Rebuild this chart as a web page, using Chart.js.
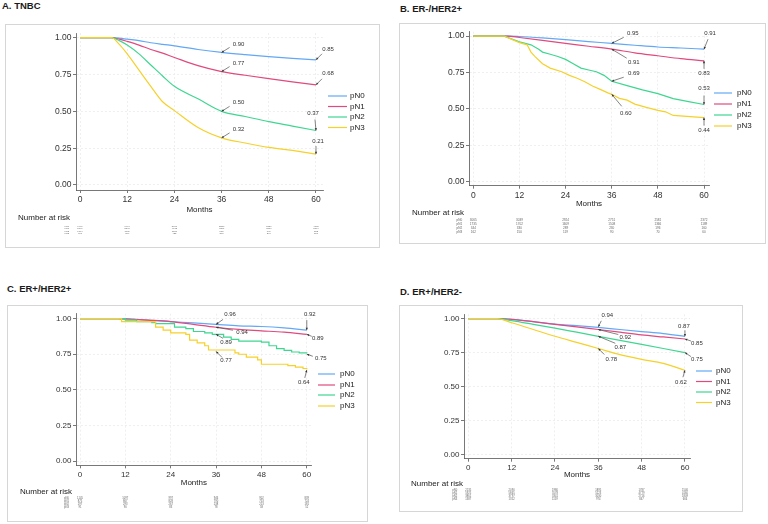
<!DOCTYPE html>
<html>
<head>
<meta charset="utf-8">
<script src="https://cdn.jsdelivr.net/npm/chart.js@4.4.1/dist/chart.umd.min.js"></script>
<style>
  html, body { margin: 0; padding: 0; background: #fff; }
  body { width: 768px; height: 524px; position: relative; overflow: hidden; font-family: "Liberation Sans", Arial, sans-serif; }
  .ttl { position: absolute; font-weight: bold; font-size: 9.5px; line-height: 1; color: #1a1a1a; white-space: nowrap; }
  .box { position: absolute; border: 1px solid #d6d6d6; box-sizing: border-box; }
  .box canvas { position: absolute; left: 0; top: 0; }
</style>
</head>
<body>
<script>
const FF = '"Liberation Sans", Arial, sans-serif';
const groups = ['pN0', 'pN1', 'pN2', 'pN3'];
const colors = ['#62a8f5', '#e04a7f', '#3fd690', '#f5d12a'];
const xTicks = [0, 12, 24, 36, 48, 60];
const yTicks = [0, 0.25, 0.5, 0.75, 1];

// A. TNBC
const aMonths = [0, 8, 10, 12, 15, 18, 21, 24, 30, 36, 42, 48, 54, 60];
const aN0 = [1, 1, 0.997, 0.99, 0.98, 0.966, 0.955, 0.945, 0.92, 0.90, 0.885, 0.872, 0.86, 0.85];
const aN1 = [1, 1, 0.99, 0.975, 0.95, 0.92, 0.895, 0.866, 0.81, 0.77, 0.745, 0.722, 0.70, 0.68];
const aN2 = [1, 1, 0.98, 0.95, 0.89, 0.815, 0.74, 0.67, 0.585, 0.50, 0.465, 0.43, 0.40, 0.37];
const aN3 = [1, 1, 0.955, 0.89, 0.78, 0.67, 0.565, 0.505, 0.39, 0.32, 0.285, 0.255, 0.235, 0.21];
const aRisk = [[6497, 6414, 5986, 5330, 5157, 4865], [5747, 5584, 4673, 4251, 3786, 3164], [1764, 1639, 1130, 830, 609, 532], [900, 759, 422, 270, 204, 156]];
const aNotes = [[0, 36, 0.90], [0, 60, 0.85], [1, 36, 0.77], [1, 60, 0.68], [2, 36, 0.50], [2, 60, 0.37], [3, 36, 0.32], [3, 60, 0.21]];

// B. ER-/HER2+
const bMonths = [0, 9, 12, 18, 24, 30, 36, 42, 48, 54, 60];
const bN0 = [1, 1, 0.997, 0.987, 0.975, 0.962, 0.95, 0.937, 0.925, 0.918, 0.91];
const bN1 = [1, 1, 0.99, 0.97, 0.95, 0.93, 0.91, 0.885, 0.865, 0.845, 0.83];
const bN2Months = [0, 8, 12, 15, 17, 18, 20, 22, 24, 26, 28, 30, 32, 34, 36, 40, 44, 48, 52, 56, 60];
const bN2 = [1, 1, 0.96, 0.94, 0.91, 0.89, 0.875, 0.86, 0.84, 0.81, 0.78, 0.767, 0.755, 0.73, 0.69, 0.66, 0.63, 0.605, 0.57, 0.55, 0.53];
const bN3Months = [0, 8, 10, 12, 14, 15, 16, 18, 20, 23, 25, 27, 29, 31, 33, 35, 36, 38, 40, 42, 45, 48, 50, 52, 60];
const bN3 = [1, 1, 0.977, 0.955, 0.94, 0.89, 0.86, 0.81, 0.78, 0.755, 0.73, 0.71, 0.686, 0.657, 0.634, 0.61, 0.60, 0.572, 0.56, 0.533, 0.51, 0.49, 0.48, 0.455, 0.44];
const bRisk = [[3065, 3039, 2924, 2751, 2581, 2372], [1735, 1702, 1609, 1508, 1366, 1189], [344, 330, 289, 230, 196, 160], [162, 150, 119, 90, 70, 60]];
const bNotes = [[0, 36, 0.95], [0, 60, 0.91], [1, 36, 0.91], [1, 60, 0.83], [2, 36, 0.69], [2, 60, 0.53], [3, 36, 0.60], [3, 60, 0.44]];

// C. ER+/HER2+
const cMonths = [0, 10, 12, 18, 24, 30, 36, 42, 48, 54, 60];
const cN0 = [1, 1, 0.998, 0.99, 0.98, 0.97, 0.96, 0.95, 0.945, 0.935, 0.92];
const cN1 = [1, 1, 0.998, 0.99, 0.98, 0.96, 0.94, 0.925, 0.915, 0.905, 0.89];
const cN2Months = [0, 12, 15, 19, 20, 25, 28, 30, 33, 35, 38, 40, 42, 48, 50, 52, 54, 56, 58, 60];
const cN2 = [1, 0.99, 0.98, 0.972, 0.965, 0.94, 0.93, 0.91, 0.90, 0.89, 0.87, 0.855, 0.843, 0.836, 0.81, 0.79, 0.778, 0.766, 0.76, 0.755];
const cN3Months = [0, 11, 20, 22, 24, 28, 29, 31, 33, 34, 41, 42, 44, 47, 48, 55, 57, 59, 60];
const cN3 = [1, 0.98, 0.94, 0.92, 0.90, 0.89, 0.85, 0.83, 0.81, 0.78, 0.76, 0.75, 0.73, 0.71, 0.68, 0.67, 0.66, 0.65, 0.645];
const cRisk = [[1145, 1097, 997, 946, 902, 839], [875, 867, 828, 790, 753, 724], [297, 293, 267, 238, 213, 181], [91, 90, 83, 78, 58, 52]];
const cNotes = [[0, 36, 0.96], [0, 60, 0.92], [1, 36, 0.94], [1, 60, 0.89], [2, 36, 0.89], [2, 60, 0.75], [3, 36, 0.77], [3, 60, 0.64]];

// D. ER+/HER2-
const dMonths = [0, 8, 12, 18, 24, 30, 36, 42, 48, 54, 60];
const dN0 = [1, 1, 0.995, 0.978, 0.96, 0.948, 0.935, 0.92, 0.905, 0.89, 0.87];
const dN1 = [1, 1, 0.995, 0.978, 0.958, 0.94, 0.92, 0.90, 0.88, 0.865, 0.85];
const dN2 = [1, 1, 0.985, 0.958, 0.93, 0.90, 0.87, 0.84, 0.81, 0.78, 0.75];
const dN3 = [1, 1, 0.97, 0.92, 0.87, 0.825, 0.78, 0.735, 0.70, 0.67, 0.62];
const dRisk = [[2135, 2090, 1980, 1895, 1787, 1546], [5925, 5865, 5578, 5223, 4779, 4160], [3861, 3797, 3341, 3030, 2716, 1809], [1387, 1352, 1159, 974, 847, 666]];
const dNotes = [[0, 36, 0.94], [0, 60, 0.87], [1, 36, 0.92], [1, 60, 0.85], [2, 36, 0.87], [2, 60, 0.75], [3, 36, 0.78], [3, 60, 0.62]];

const panels = [
  { title: 'A. TNBC', risk: aRisk, notes: aNotes,
    series: [[aMonths, aN0, 'smooth'], [aMonths, aN1, 'smooth'], [aMonths, aN2, 'smooth'], [aMonths, aN3, 'smooth']] },
  { title: 'B. ER-/HER2+', risk: bRisk, notes: bNotes,
    series: [[bMonths, bN0, 'smooth'], [bMonths, bN1, 'smooth'], [bN2Months, bN2, 'line'], [bN3Months, bN3, 'line']] },
  { title: 'C. ER+/HER2+', risk: cRisk, notes: cNotes,
    series: [[cMonths, cN0, 'smooth'], [cMonths, cN1, 'smooth'], [cN2Months, cN2, 'step'], [cN3Months, cN3, 'step']] },
  { title: 'D. ER+/HER2-', risk: dRisk, notes: dNotes,
    series: [[dMonths, dN0, 'smooth'], [dMonths, dN1, 'smooth'], [dMonths, dN2, 'smooth'], [dMonths, dN3, 'smooth']] }
];

// page-pixel layout of each panel (box, axis lines, texts)
const layouts = [
  { box: [5, 24, 375, 224], ax: [76, 323, 33, 190], xr: [-1.02, 61.78], yr: [-0.034, 1.032], title: [2, 1.3], tf: 8.5,
    monthsY: 210, legend: [328, 347, 350, [96, 106.5, 117, 127.5]], nar: [18, 218], riskY: [226, 228.5, 231, 233.5], rf: 2.4,
    noteOff: [[17, -8, 8, -5], [12, -10, 6, -6], [17, -8, 8, -5], [12, -11, 6, -6], [17, -9, 8, -5], [-3, -17, -1, -11], [17, -9, 8, -5], [2, -13, 0, -8]] },
  { box: [399, 23, 367, 221], ax: [469, 709, 31.7, 185.7], xr: [-1.12, 61.3], yr: [-0.0275, 1.03], title: [400, 3.6], tf: 8.5,
    monthsY: 204, legend: [714, 732, 737, [93, 104, 115, 126]], nar: [412, 213], riskY: [220, 224, 228, 232], rf: 3.1,
    noteOff: [[21, -10, 12, -6], [6, -16, 4, -10], [22, 13, 15, 9], [0, 13, 0, 8], [22, -8, 12, -4], [0, -16, 0, -9], [14, 19, 10, 12], [0, 13, 0, 8]] },
  { box: [7, 305, 361, 217], ax: [76, 311.7, 313.7, 465.3], xr: [-1.06, 61.3], yr: [-0.03, 1.035], title: [7, 284], tf: 8,
    monthsY: 482.7, legend: [318, 335, 340, [374, 385, 395, 406]], nar: [20, 492], riskY: [498, 501, 504, 507], rf: 2.7,
    noteOff: [[14, -10, 7, -5], [3, -16, 0, -10], [26, 5, 17, 3], [11, 4, 5, 2], [10, 8, 7, 4], [14, 4, 6, 2], [10, 9, 6, 6], [-3, 12, -2, 8]] },
  { box: [399, 305, 344, 207], ax: [464, 690, 314.3, 458.7], xr: [-1.19, 61.4], yr: [-0.032, 1.032], title: [400, 286.6], tf: 8,
    monthsY: 475, legend: [696, 712, 716, [371, 381.5, 392, 402.5]], nar: [411, 484], riskY: [490, 493, 496, 499], rf: 2.7,
    noteOff: [[9, -11, 3, -6], [-1, -10, 0, -6], [27, 8, 20, 5], [12, 4, 6, 2], [22, 11, 17, 7], [12, 7, 6, 4], [13, 11, 6, 6], [-4, 12, -2, 7]] }
];

// tiny text: draw at 10px and scale down, small canvas fonts render badly otherwise
function tinyText(ctx, str, x, y, size, align) {
  const s = size / 10;
  ctx.save();
  ctx.translate(x, y);
  ctx.scale(s, s);
  ctx.font = '10px ' + FF;
  ctx.textAlign = align;
  ctx.textBaseline = 'middle';
  ctx.fillText(str, 0, 0);
  ctx.restore();
}

function extras(p, L, ox, oy) {
  return {
    id: 'kmExtras',
    afterDraw(chart) {
      const ctx = chart.ctx, xs = chart.scales.x, ys = chart.scales.y;
      ctx.save();
      // legend
      ctx.font = '8px ' + FF;
      ctx.textBaseline = 'middle';
      ctx.textAlign = 'left';
      groups.forEach((g, i) => {
        const y = L.legend[3][i] - oy;
        ctx.strokeStyle = colors[i];
        ctx.lineWidth = 1.2;
        ctx.beginPath();
        ctx.moveTo(L.legend[0] - ox, y);
        ctx.lineTo(L.legend[1] - ox, y);
        ctx.stroke();
        ctx.fillStyle = '#222';
        ctx.fillText(g, L.legend[2] - ox, y);
      });
      // value labels with arrows
      ctx.font = '6px ' + FF;
      ctx.textAlign = 'center';
      p.notes.forEach((n, i) => {
        const [tx, ty, ax, ay] = L.noteOff[i];
        const px = xs.getPixelForValue(n[1]), py = ys.getPixelForValue(n[2]);
        ctx.fillStyle = '#333';
        ctx.fillText(n[2].toFixed(2), px + tx, py + ty);
        const sx = px + ax, sy = py + ay;
        ctx.strokeStyle = '#333';
        ctx.lineWidth = 0.6;
        ctx.beginPath();
        ctx.moveTo(sx, sy);
        ctx.lineTo(px, py);
        ctx.stroke();
        const a = Math.atan2(py - sy, px - sx), h = 2.6;
        ctx.beginPath();
        ctx.moveTo(px, py);
        ctx.lineTo(px - h * Math.cos(a - 0.45), py - h * Math.sin(a - 0.45));
        ctx.lineTo(px - h * Math.cos(a + 0.45), py - h * Math.sin(a + 0.45));
        ctx.closePath();
        ctx.fillStyle = '#333';
        ctx.fill();
      });
      // number at risk
      ctx.font = '8px ' + FF;
      ctx.textAlign = 'left';
      ctx.fillStyle = '#1a1a1a';
      ctx.fillText('Number at risk', L.nar[0] - ox, L.nar[1] - oy);
      ctx.fillStyle = '#666';
      const x0 = xs.getPixelForValue(0);
      p.risk.forEach((row, i) => {
        const y = L.riskY[i] - oy;
        tinyText(ctx, groups[i], x0 - 11, y, L.rf, 'right');
        row.forEach((v, j) => tinyText(ctx, String(v), xs.getPixelForValue(xTicks[j]), y, L.rf, 'center'));
      });
      ctx.restore();
    }
  };
}

panels.forEach((p, k) => {
  const L = layouts[k];
  const t = document.createElement('div');
  t.className = 'ttl';
  t.style.left = L.title[0] + 'px';
  t.style.top = L.title[1] + 'px';
  t.textContent = p.title;
  document.body.appendChild(t);

  const box = document.createElement('div');
  box.className = 'box';
  Object.assign(box.style, { left: L.box[0] + 'px', top: L.box[1] + 'px', width: L.box[2] + 'px', height: L.box[3] + 'px' });
  document.body.appendChild(box);
  const cw = L.box[2] - 2, ch = L.box[3] - 2;
  const ox = L.box[0] + 1, oy = L.box[1] + 1;
  const cv = document.createElement('canvas');
  cv.width = cw; cv.height = ch;
  cv.style.width = cw + 'px'; cv.style.height = ch + 'px';
  box.appendChild(cv);

  const aL = L.ax[0] - ox, aR = L.ax[1] - ox, aT = L.ax[2] - oy, aB = L.ax[3] - oy;
  const yW = 36;
  const xH = (L.monthsY - oy) + 4.8 - aB;

  const datasets = p.series.map((s, i) => ({
    label: groups[i],
    data: s[0].map((m, j) => ({ x: m, y: s[1][j] })),
    borderColor: colors[i],
    borderWidth: 1.2,
    pointRadius: 0,
    fill: false,
    order: 3 - i,
    stepped: s[2] === 'step',
    cubicInterpolationMode: s[2] === 'smooth' ? 'monotone' : 'default',
    tension: 0
  }));

  new Chart(cv, {
    type: 'line',
    data: { datasets },
    options: {
      responsive: false,
      animation: false,
      layout: { padding: { left: aL - yW, right: cw - aR, top: aT, bottom: ch - aB - xH } },
      plugins: { legend: { display: false }, tooltip: { enabled: false } },
      scales: {
        x: {
          type: 'linear', min: L.xr[0], max: L.xr[1],
          afterBuildTicks: sc => { sc.ticks = xTicks.map(v => ({ value: v })); },
          afterFit: sc => { sc.height = xH; },
          ticks: { font: { size: L.tf, family: FF }, color: '#333', padding: 1.5, maxRotation: 0, autoSkip: false, callback: v => String(v) },
          grid: { color: '#ebebeb', lineWidth: 0.8, tickLength: 3, tickColor: '#555', tickWidth: 0.8 },
          border: { display: true, color: '#555', width: 0.8, dash: [2, 2] },
          title: { display: true, text: 'Months', font: { size: 8, family: FF }, color: '#222', padding: 0 }
        },
        y: {
          type: 'linear', min: L.yr[0], max: L.yr[1],
          afterBuildTicks: sc => { sc.ticks = yTicks.map(v => ({ value: v })); },
          afterFit: sc => { sc.width = yW; },
          ticks: { font: { size: L.tf, family: FF }, color: '#333', padding: 1.5, autoSkip: false, callback: v => v.toFixed(2) },
          grid: { color: '#ebebeb', lineWidth: 0.8, tickLength: 3, tickColor: '#555', tickWidth: 0.8 },
          border: { display: true, color: '#555', width: 0.8, dash: [2, 2] }
        }
      }
    },
    plugins: [extras(p, L, ox, oy)]
  });
});
</script>
</body>
</html>
